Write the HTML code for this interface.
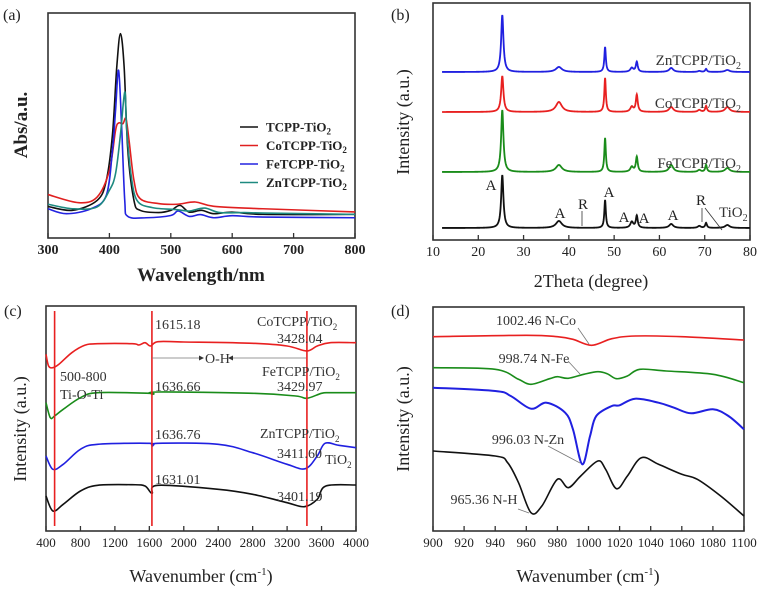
<!DOCTYPE html>
<html><head><meta charset="utf-8">
<style>
html,body{margin:0;padding:0;background:#fff;}
svg{display:block;font-family:"Liberation Serif",serif;}
</style></head>
<body>
<svg id="fig" width="762" height="592" viewBox="0 0 762 592" xmlns="http://www.w3.org/2000/svg"></svg>
<script>
// ---------- Panel (a) UV-vis data ----------
const aWl_TCPP = [300,340,380,395,405,412,418,424,430,440,450,480,500,515,530,550,570,600,650,800];
const aAbs_TCPP = [0.14,0.123,0.167,0.256,0.46,0.76,0.908,0.76,0.39,0.167,0.123,0.113,0.123,0.145,0.115,0.123,0.108,0.115,0.105,0.105];
const aWl_Co = [300,350,380,400,410,415,422,427,432,440,450,480,510,540,570,650,800];
const aAbs_Co = [0.193,0.157,0.182,0.30,0.478,0.511,0.508,0.53,0.434,0.256,0.175,0.153,0.15,0.16,0.141,0.13,0.116];
const aWl_Fe = [300,330,370,395,405,410,415,420,425,430,460,500,512,530,548,570,600,650,800];
const aAbs_Fe = [0.13,0.108,0.13,0.19,0.39,0.567,0.745,0.49,0.167,0.096,0.09,0.10,0.12,0.096,0.104,0.09,0.099,0.093,0.09];
const aWl_Zn = [300,340,380,400,410,418,425,428,435,445,470,510,530,555,580,620,650,800];
const aAbs_Zn = [0.15,0.13,0.138,0.212,0.286,0.46,0.649,0.49,0.286,0.167,0.135,0.126,0.12,0.133,0.113,0.113,0.111,0.105];
const aTicks = [300,400,500,600,700,800];
const aLegend = ["TCPP-TiO","CoTCPP-TiO","FeTCPP-TiO","ZnTCPP-TiO"];

// ---------- Panel (b) XRD data (peak list per sample) ----------
const bPeakPos = [25.3,37.8,48.0,53.9,55.0,62.6,68.8,70.3,75.0];
const bPeakWid = [0.6,1.6,0.4,0.8,0.5,1.1,0.8,0.45,1.2];
const bH_TiO2 = [53,7,28,6,12,4,2,5,3];
const bH_Fe = [62,7,34,5,15,7,2,7,4];
const bH_Co = [36,10,34,5,17,5,2,6,5];
const bH_Zn = [57,5,25,4,10,4,1,3,2];
const bBase = [12,68,128,168];
const bTicks = [10,20,30,40,50,60,70,80];

// ---------- Panel (c) FTIR data ----------
const cWn_Co = [400,430,480,550,700,850,1000,1400,1480,1550,1615,1700,2000,2800,3200,3428,3550,3700,4000];
const cI_Co = [176.7,165,163.3,166.7,178.3,185.7,187.3,187.3,186,188.3,185,189.3,189,187.7,185,180,185,188.3,188.3];
const cWn_Fe = [400,450,500,600,800,1000,1600,1636,1700,2800,3300,3430,3600,3700,4000];
const cI_Fe = [128.3,113.3,115,121.7,133.3,138.3,137.7,136.7,139,137.7,135,132.7,137.7,138.3,138.3];
const cWn_Zn = [400,480,600,800,1000,1600,1636,1700,2400,2800,3200,3411,3550,3640,3800,4000];
const cI_Zn = [75,61.7,66.7,81.7,86.7,87.7,85,87.7,86.7,78.3,66.7,62.3,75,87.7,85.7,83.3];
const cWn_Ti = [400,480,600,800,1000,1400,1550,1631,1700,2400,2800,3200,3401,3550,3650,4000];
const cI_Ti = [35,20,26.7,40,45.7,46.3,45,37.7,45.7,41.7,36.7,28.3,24.3,31.7,45,46];
const cMarkers = [500,1630,3430];
const cTicks = [400,800,1200,1600,2000,2400,2800,3200,3600,4000];

// ---------- Panel (d) FTIR zoom data ----------
const dWn_Co = [900,960,980,990,1002,1015,1030,1060,1100];
const dI_Co = [194.3,195.7,194.3,191.7,185.7,192.3,195,194.3,191];
const dWn_Fe = [900,940,955,963,975,980,987,997,1006,1012,1018,1025,1033,1050,1080,1100];
const dI_Fe = [163.3,161.7,151.7,146.7,152.3,154.3,152.7,156.7,159.3,157.3,152.3,155,161.7,160,156.7,148.3];
const dWn_Zn = [900,940,950,963,973,985,990,996,1001,1005,1015,1020,1030,1045,1055,1066,1080,1090,1100];
const dI_Zn = [143.3,140,135,122.3,128.3,118.3,101.7,66.7,95,115,125,125.7,132.3,128.3,123.3,117.7,121.7,115,101.7];
const dWn_H = [900,940,948,955,963,970,980,987,995,1006,1011,1018,1025,1034,1045,1060,1070,1085,1100];
const dI_H = [80,75,68.3,48.3,18.3,25,51.7,43.3,55,70,61.7,42.3,55,73.3,66.7,56.7,51.7,35,15];
const dTicks = [900,920,940,960,980,1000,1020,1040,1060,1080,1100];

const NS="http://www.w3.org/2000/svg";
const svg=document.getElementById('fig');
function el(tag,attrs,parent){const e=document.createElementNS(NS,tag);for(const k in attrs)e.setAttribute(k,attrs[k]);(parent||svg).appendChild(e);return e;}
function smooth(pts){let d="M"+pts[0][0].toFixed(2)+","+pts[0][1].toFixed(2);
 for(let i=0;i<pts.length-1;i++){const p0=pts[i-1]||pts[i],p1=pts[i],p2=pts[i+1],p3=pts[i+2]||p2;
  const c1=[p1[0]+(p2[0]-p0[0])/6,p1[1]+(p2[1]-p0[1])/6],c2=[p2[0]-(p3[0]-p1[0])/6,p2[1]-(p3[1]-p1[1])/6];
  d+=" C"+c1[0].toFixed(2)+","+c1[1].toFixed(2)+" "+c2[0].toFixed(2)+","+c2[1].toFixed(2)+" "+p2[0].toFixed(2)+","+p2[1].toFixed(2);}
 return d;}
function text(x,y,s,attrs,parent){const t=el('text',Object.assign({x:x,y:y},attrs||{}),parent);t.innerHTML=s;return t;}

function panel(o){
 const g=el('g',{});
 
 
 const sx=v=>o.L+(v-o.x0)/(o.x1-o.x0)*(o.R-o.L);
 const sy=v=>o.B-(v-o.y0)/(o.y1-o.y0)*(o.B-o.T);
 const fr=el('rect',{x:o.L,y:o.T,width:o.R-o.L,height:o.B-o.T,fill:'none',stroke:'#333','stroke-width':1.6},g);
 
 
 o.ticks.forEach(t=>{
  const tk=el('line',{x1:sx(t),x2:sx(t),y1:o.B,y2:o.B-5,stroke:'#333','stroke-width':1.3},g);
  
  
  const tl=text(sx(t),o.B+16,String(t),{'text-anchor':'middle','font-size':o.tfs,'font-weight':o.bold?'bold':'normal',fill:'#222'},g);
  
  
 });
 return {g,sx,sy};
}
function series(p,xs,ys,color,name,w){
 const pts=xs.map((x,i)=>[p.sx(x),p.sy(ys[i])]);
 const path=el('path',{d:smooth(pts),fill:'none',stroke:color,'stroke-width':w||1.6,'stroke-linejoin':'round'},p.g);
 
 
 return path;
}

// ===== Panel (a) =====
const pa=panel({name:'panel-a-uv-vis',L:48,R:355,T:13,B:238,x0:300,x1:800,y0:0,y1:1,ticks:aTicks,tfs:14,bold:true});
series(pa,aWl_TCPP,aAbs_TCPP,'#111','series-tcpp');
series(pa,aWl_Co,aAbs_Co,'#e02020','series-cotcpp');
series(pa,aWl_Fe,aAbs_Fe,'#2323e0','series-fetcpp');
series(pa,aWl_Zn,aAbs_Zn,'#1e8a80','series-zntcpp');
const aCol=['#111','#e02020','#2323e0','#1e8a80'];
aLegend.forEach((s,i)=>{const y=127+i*18.5;
 const ln=el('line',{x1:240,x2:258,y1:y,y2:y,stroke:aCol[i],'stroke-width':1.6},pa.g);
 
 
 const t=text(266,y+4.5,s+'<tspan font-size="9" dy="3">2</tspan>',{'font-size':13,'font-weight':'bold',fill:'#222'},pa.g);
 
 });
let t;
t=text(201,281,'Wavelength/nm',{'text-anchor':'middle','font-size':19,'font-weight':'bold',fill:'#222'});

t=text(0,0,'Abs/a.u.',{'text-anchor':'middle','font-size':19,'font-weight':'bold',fill:'#222',transform:'translate(27,125) rotate(-90)'});

t=text(3,20,'(a)',{'font-size':16,fill:'#222'});


// ===== Panel (b) =====
const pb=panel({name:'panel-b-xrd',L:433,R:750,T:3,B:240,x0:10,x1:80,y0:0,y1:237,ticks:bTicks,tfs:14});
function xrd(h,base){const xs=[],ys=[];for(let x=12;x<=80.001;x+=0.05){let v=base;
 bPeakPos.forEach((p,i)=>{const w=bPeakWid[i];v+=h[i]/(1+((x-p)/(w/2))**2);});xs.push(x);ys.push(v);}return [xs,ys];}
function linear(p,xs,ys,color,name){const d=xs.map((x,i)=>(i?'L':'M')+p.sx(x).toFixed(2)+','+p.sy(ys[i]).toFixed(2)).join('');
 const path=el('path',{d:d,fill:'none',stroke:color,'stroke-width':1.8},p.g);
 
 }
[[bH_TiO2,'#111','series-tio2'],[bH_Fe,'#1a8c1a','series-fetcpp'],[bH_Co,'#e82020','series-cotcpp'],[bH_Zn,'#2020e0','series-zntcpp']].forEach((s,i)=>{const r=xrd(s[0],bBase[i]);linear(pb,r[0],r[1],s[1],s[2]);});
const bLbl=[['ZnTCPP/TiO',60],['CoTCPP/TiO',103],['FeTCPP/TiO',163]];
bLbl.forEach(l=>{t=text(741,l[1]+5,l[0]+'<tspan font-size="10" dy="4">2</tspan>',{'text-anchor':'end','font-size':15,fill:'#333'});
 });
[['A',491,190],['A',560,218],['R',583,209],['A',609,197],['A',624,222],['A',644,223],['A',673,220],['R',701,205]].forEach(a=>{
 t=text(a[1],a[2],a[0],{'text-anchor':'middle','font-size':15,fill:'#222'});
 });
t=text(719,217,'TiO<tspan font-size="10" dy="4">2</tspan>',{'font-size':15,fill:'#333'});

[[582,211,582,226],[702,208,702,222],[705,208,722,230]].forEach(a=>{
 const ln=el('line',{x1:a[0],y1:a[1],x2:a[2],y2:a[3],stroke:'#333','stroke-width':0.8});
 });
t=text(591,287,'2Theta (degree)',{'text-anchor':'middle','font-size':18,fill:'#222'});

t=text(0,0,'Intensity (a.u.)',{'text-anchor':'middle','font-size':18,fill:'#222',transform:'translate(409,122) rotate(-90)'});

t=text(391,20,'(b)',{'font-size':16,fill:'#222'});


// ===== Panel (c) =====
const pc=panel({name:'panel-c-ftir',L:46,R:356,T:306,B:531,x0:400,x1:4000,y0:0,y1:225,ticks:cTicks,tfs:13});
series(pc,cWn_Co,cI_Co,'#e82020','series-cotcpp');
series(pc,cWn_Fe,cI_Fe,'#1a8c1a','series-fetcpp');
series(pc,cWn_Zn,cI_Zn,'#2020e0','series-zntcpp');
series(pc,cWn_Ti,cI_Ti,'#111','series-tio2');
cMarkers.forEach(m=>{const ln=el('line',{x1:pc.sx(m),x2:pc.sx(m),y1:311,y2:526,stroke:'#e82020','stroke-width':1.6});
 });
[[152,199],[306,233]].forEach(a=>{const ln=el('line',{x1:a[0],x2:a[1],y1:358,y2:358,stroke:'#777','stroke-width':0.8});
 });
el('path',{d:'M204,358 l-5,-2.5 v5 z M228,358 l5,-2.5 v5 z',fill:'#333'});
const cLbl=[['1615.18',155,329],['3428.04',277,343],['500-800',60,381],['Ti-O-Ti',60,399],['3429.97',277,391],['1636.66',155,391],['1636.76',155,439],['3411.60',277,458],['1631.01',155,484],['3401.19',277,501],['O-H',205,363]];
cLbl.forEach(l=>{t=text(l[1],l[2],l[0],{'font-size':14,fill:'#333'});
 });
[['CoTCPP/TiO',257,326],['FeTCPP/TiO',262,376],['ZnTCPP/TiO',260,438],['TiO',325,464]].forEach(l=>{
 t=text(l[1],l[2],l[0]+'<tspan font-size="9" dy="4">2</tspan>',{'font-size':14,fill:'#333'});
 });
t=text(201,582,'Wavenumber (cm<tspan font-size="11" dy="-7">-1</tspan><tspan dy="7">)</tspan>',{'text-anchor':'middle','font-size':18,fill:'#222'});

t=text(0,0,'Intensity (a.u.)',{'text-anchor':'middle','font-size':18,fill:'#222',transform:'translate(26,429) rotate(-90)'});

t=text(4,316,'(c)',{'font-size':16,fill:'#222'});


// ===== Panel (d) =====
const pd=panel({name:'panel-d-ftir',L:433,R:744,T:307,B:531,x0:900,x1:1100,y0:0,y1:224,ticks:dTicks,tfs:13});
series(pd,dWn_Co,dI_Co,'#e82020','series-cotcpp');
series(pd,dWn_Fe,dI_Fe,'#1a8c1a','series-fetcpp');
series(pd,dWn_Zn,dI_Zn,'#2020e0','series-zntcpp',2);
series(pd,dWn_H,dI_H,'#111','series-tcpp');
[['1002.46 N-Co',536,325,578,328,589,344],['998.74 N-Fe',534,363,568,361,580,374],['996.03 N-Zn',528,444,548,446,580,463],['965.36 N-H',484,504,518,509,529,513]].forEach(a=>{
 t=text(a[1],a[2],a[0],{'text-anchor':'middle','font-size':14,fill:'#333'});
 
 const ln=el('line',{x1:a[3],y1:a[4],x2:a[5],y2:a[6],stroke:'#777','stroke-width':0.8});
 });
t=text(588,582,'Wavenumber (cm<tspan font-size="11" dy="-7">-1</tspan><tspan dy="7">)</tspan>',{'text-anchor':'middle','font-size':18,fill:'#222'});

t=text(0,0,'Intensity (a.u.)',{'text-anchor':'middle','font-size':18,fill:'#222',transform:'translate(409,419) rotate(-90)'});

t=text(391,316,'(d)',{'font-size':16,fill:'#222'});

</script>
</body></html>
